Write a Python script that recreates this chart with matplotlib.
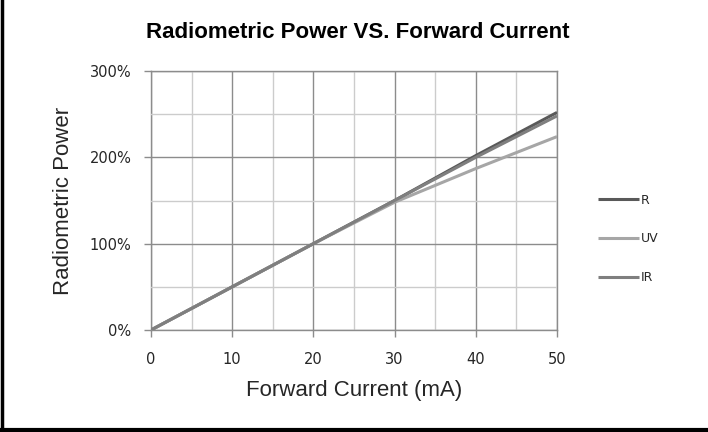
import numpy as np
import matplotlib.pyplot as plt
from matplotlib.ticker import MultipleLocator, FuncFormatter
from matplotlib.lines import Line2D

current = [0, 10, 20, 30, 40, 50]
power_r = [0, 50, 100, 150, 202, 252]
power_uv = [0, 50, 100, 148, 187, 224]
power_ir = [0, 50, 100, 150, 200, 248]

series = [('R', power_r, '#595959'),
          ('UV', power_uv, '#a6a6a6'),
          ('IR', power_ir, '#7f7f7f')]

fig = plt.figure(figsize=(7.08, 4.32), dpi=100)
ax = fig.add_axes([151 / 708, 1 - 330 / 432, 406 / 708, 259 / 432])

for name, vals, col in series:
    ax.plot(current, vals, color=col, lw=2.2, label=name, solid_capstyle='butt')

ax.set_xlim(0, 50)
ax.set_ylim(0, 300)
ax.xaxis.set_major_locator(MultipleLocator(10))
ax.xaxis.set_minor_locator(MultipleLocator(5))
ax.yaxis.set_major_locator(MultipleLocator(100))
ax.yaxis.set_minor_locator(MultipleLocator(50))
ax.yaxis.set_major_formatter(FuncFormatter(lambda v, p: '%d%%' % v))

ax.grid(which='major', color='#8c8c8c', lw=1.0)
ax.grid(which='minor', color='#cccccc', lw=1.0)
ax.set_axisbelow(True)
for s in ax.spines.values():
    s.set_color('#8c8c8c')
    s.set_linewidth(1.0)
    s.set_zorder(0.5)

ax.tick_params(which='major', direction='out', length=5, width=1, color='#8c8c8c',
               labelsize=10.5, labelcolor='#262626')
ax.tick_params(axis='x', which='major', pad=11)
ax.tick_params(axis='y', which='major', pad=9)
ax.tick_params(which='minor', length=0)

ax.set_xlabel('Forward Current (mA)', fontsize=16, family='Liberation Sans',
              color='#262626', labelpad=9)
ax.set_ylabel('Radiometric Power', fontsize=16, family='Liberation Sans',
              color='#262626', labelpad=11)
fig.suptitle('Radiometric Power VS. Forward Current', x=358 / 708, y=1 - 33 / 432,
             va='center', fontsize=16, fontweight='bold', family='Liberation Sans')

leg = ax.legend(loc='center left', bbox_to_anchor=(598 / 708, 1 - 239 / 432),
                bbox_transform=fig.transFigure, frameon=False, fontsize=9,
                handlelength=3.3, handletextpad=0.15, labelspacing=2.05,
                borderpad=0, borderaxespad=0)
for t in leg.get_texts():
    t.set_color('#262626')

# outer frame lines from the original document
fig.add_artist(Line2D([1.5 / 708, 1.5 / 708], [0, 1], color='black', lw=2.5,
                      transform=fig.transFigure))
fig.add_artist(Line2D([0, 1], [1 - 430 / 432, 1 - 430 / 432], color='black', lw=3,
                      transform=fig.transFigure))

fig.savefig('out.png', dpi=100)
